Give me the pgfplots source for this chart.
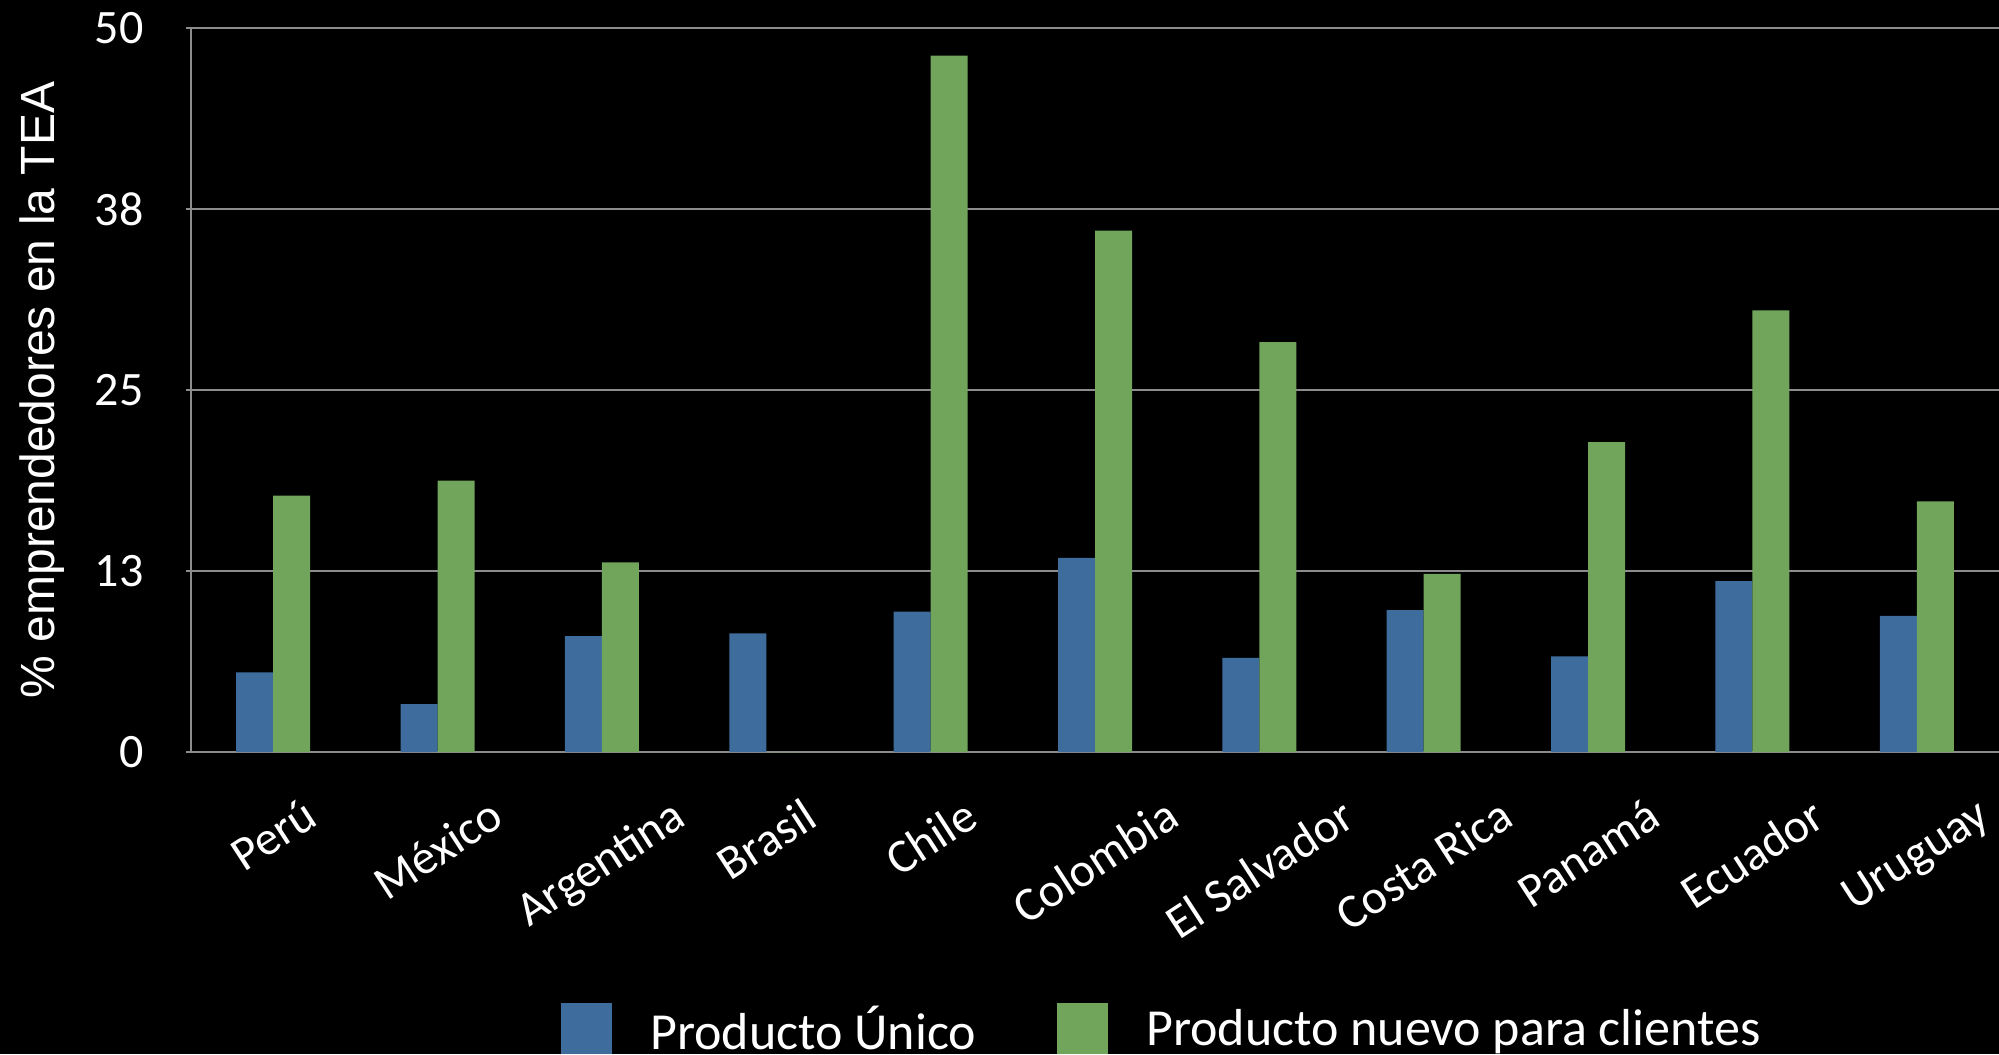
\documentclass[border=0pt]{standalone}
\usepackage{pgfplots}
\pgfplotsset{compat=1.18}
\usepackage{fontspec}
\setmainfont{Carlito}
\newfontfamily\arialfont{Liberation Sans}
\usetikzlibrary{backgrounds}
\definecolor{barblue}{HTML}{3E6C9D}
\definecolor{bargreen}{HTML}{70A55B}
\definecolor{gridgray}{HTML}{8C8C8C}
\begin{document}
\begin{tikzpicture}
\begin{axis}[
 name=ax,
 width=904pt, height=362pt, scale only axis,
 xmin=-0.5, xmax=10.5, ymin=0, ymax=50,
 ybar=0pt, bar width=18.5pt,
 axis x line*=bottom, axis y line*=left,
 axis line style={gridgray, line width=1pt, -},
 ytick={0,12.5,25,37.5,50}, yticklabels={0,13,25,38,50},
 ymajorgrids, grid style={gridgray, line width=1pt},
 tick align=outside, major tick length=2.5pt,
 ytick style={gridgray, line width=1pt},
 xtick={0,1,2,3,4,5,6,7,8,9,10}, xtick style={draw=none},
 xticklabels={\rotatebox{33}{Perú},\rotatebox{33}{México},\rotatebox{33}{Argentina},\rotatebox{33}{Brasil},\rotatebox{33}{Chile},\rotatebox{33}{Colombia},\rotatebox{33}{El Salvador},\rotatebox{33}{Costa Rica},\rotatebox{33}{Panamá},\rotatebox{33}{Ecuador},\rotatebox{33}{Uruguay}},
 /pgf/number format/assume math mode=true,
 tick label style={font=\fontsize{24}{29}\selectfont, text=white},
 yticklabel style={anchor=east, inner sep=0pt, xshift=-21pt},
 xticklabel style={anchor=north, inner sep=0pt, yshift=-19.5pt},
 ylabel={\arialfont \% emprendedores en la TEA},
 ylabel style={font=\fontsize{24}{28}\selectfont, text=white, at={(rel axis cs:0,0.5)}, anchor=base, yshift=68pt},
 legend style={at={(rel axis cs:0.2046,0)}, anchor=north west, yshift=-125.5pt, draw=none, fill=none, text=white, font=\fontsize{26}{31}\selectfont, legend columns=2, inner sep=0pt, nodes={inner sep=0pt}, /tikz/every odd column/.append style={column sep=19pt}, /tikz/every even column/.append style={column sep=40.5pt}},
 legend image code/.code={\fill[#1] (0pt,-12.75pt) rectangle (25.5pt,12.75pt);},
]
\addplot[fill=barblue, draw=none] coordinates {(0,5.5) (1,3.3) (2,8.0) (3,8.2) (4,9.7) (5,13.4) (6,6.5) (7,9.8) (8,6.6) (9,11.8) (10,9.4)};
\addplot[fill=bargreen, draw=none] coordinates {(0,17.7) (1,18.75) (2,13.1) (3,0) (4,48.1) (5,36.0) (6,28.3) (7,12.3) (8,21.4) (9,30.5) (10,17.3)};
\legend{Producto Único, Producto nuevo para clientes}
\end{axis}
\pgfresetboundingbox
\path[use as bounding box] ([xshift=-95.5pt,yshift=-151pt]ax.south west) rectangle ([yshift=14pt]ax.north east);
\begin{scope}[on background layer]
\fill[black] ([xshift=-95.5pt,yshift=-151pt]ax.south west) rectangle ([yshift=14pt]ax.north east);
\end{scope}
\end{tikzpicture}
\end{document}
